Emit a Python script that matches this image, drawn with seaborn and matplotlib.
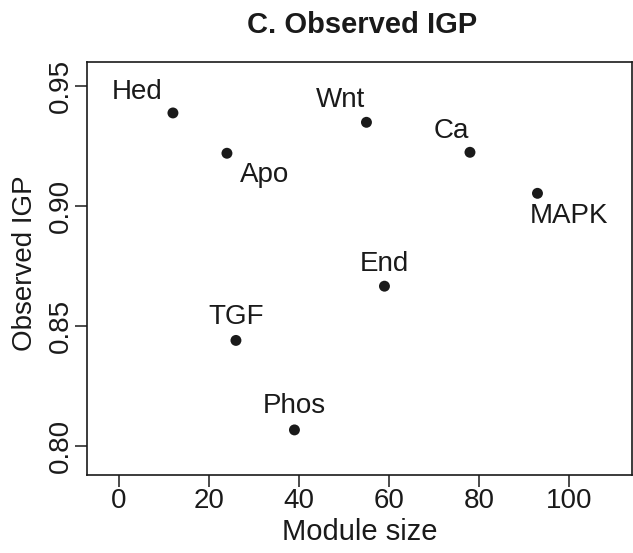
import matplotlib
matplotlib.use("Agg")
import matplotlib.pyplot as plt
import seaborn as sns
import pandas as pd

modules = ["Hed", "Apo", "Wnt", "Ca", "MAPK", "End", "TGF", "Phos"]
module_size = [12, 24, 55, 78, 93, 59, 26, 39]
observed_igp = [0.9388, 0.9220, 0.9349, 0.9224, 0.9053, 0.8666, 0.8440, 0.8067]
# label offsets in points (dx, dy)
label_offsets = [(-26, 15), (27.4, -15.8), (-18.7, 15.8), (-13.7, 15.1),
                 (22.7, -16.6), (0, 15.8), (0, 16.6), (0, 17.3)]

df = pd.DataFrame({"module": modules, "size": module_size, "igp": observed_igp})

sns.set_style("ticks")
plt.rcParams["font.family"] = ["Liberation Sans", "DejaVu Sans"]

fig = plt.figure(figsize=(6.33, 5.53), dpi=100)
ax = fig.add_axes([0.1374, 0.141, 0.861, 0.7463])
sns.scatterplot(data=df, x="size", y="igp", ax=ax, color="#1a1a1a", s=62,
                edgecolor="none", legend=False)
for m, x, y, (dx, dy) in zip(modules, module_size, observed_igp, label_offsets):
    ax.annotate(m, (x, y), xytext=(dx, dy), textcoords="offset points",
                ha="center", va="center", fontsize=20, color="#1a1a1a")

ax.set_xlim(-7.1, 114)
ax.set_ylim(0.7879, 0.9599)
ax.set_xticks([0, 20, 40, 60, 80, 100])
ax.set_yticks([0.80, 0.85, 0.90, 0.95])
ax.set_yticklabels(["0.80", "0.85", "0.90", "0.95"], rotation=90, va="center")
ax.tick_params(axis="both", length=8.6, width=1.1, colors="#1a1a1a", direction="out",
               labelsize=20)
ax.tick_params(axis="x", pad=0.5)
ax.tick_params(axis="y", pad=0.5)
for s in ax.spines.values():
    s.set_visible(True)
    s.set_linewidth(1.2)
    s.set_color("#1a1a1a")
ax.set_xlabel("Module size", fontsize=21, color="#1a1a1a", labelpad=3)
ax.set_ylabel("Observed IGP", fontsize=20, color="#1a1a1a")
ax.yaxis.set_label_coords(-0.0906, 0.5125)
fig.text(0.5714, 0.9398, "C. Observed IGP", ha="center", va="baseline",
         fontsize=21, fontweight="bold", color="#1a1a1a")
fig.savefig("out.png", dpi=100)
